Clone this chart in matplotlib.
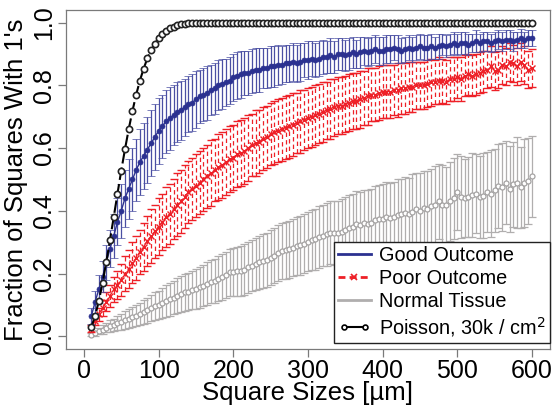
import numpy as np
import matplotlib
matplotlib.use("Agg")
import matplotlib.pyplot as plt
from matplotlib.lines import Line2D
from matplotlib.legend_handler import HandlerLine2D

plt.rcParams['font.family'] = ['Liberation Sans', 'DejaVu Sans']

# square sizes in um, 10..600 in steps of 5
square_sizes = np.arange(10, 605, 5)

good_mean = [
    .065, .11, .15, .19, .235, .28, .32, .365, .40, .44,
    .47, .50, .53, .555, .575, .595, .615, .635, .655, .67,
    .685, .695, .705, .715, .72, .73, .74, .745, .755, .765,
    .77, .775, .785, .79, .80, .805, .81, .815, .825, .83,
    .835, .84, .84, .845, .85, .85, .855, .855, .86, .86,
    .865, .865, .87, .87, .875, .87, .875, .88, .88, .885,
    .88, .885, .89, .89, .895, .89, .90, .90, .895, .90,
    .905, .90, .905, .91, .905, .91, .915, .91, .91, .915,
    .915, .92, .915, .91, .915, .92, .915, .92, .925, .92,
    .92, .925, .92, .925, .93, .925, .93, .935, .93, .935,
    .935, .93, .935, .94, .935, .94, .94, .935, .94, .945,
    .94, .945, .945, .94, .945, .95, .945, .95, .95,
]
good_sd = [
    .025, .035, .045, .05, .055, .06, .07, .075, .085, .09,
    .095, .10, .10, .105, .105, .105, .105, .105, .105, .10,
    .10, .10, .095, .095, .095, .09, .09, .09, .09, .085,
    .085, .085, .08, .08, .08, .08, .075, .075, .075, .075,
    .075, .07, .07, .07, .07, .07, .065, .065, .065, .065,
    .065, .06, .06, .06, .06, .06, .06, .055, .06, .055,
    .055, .055, .055, .05, .055, .05, .05, .05, .05, .05,
    .05, .045, .05, .045, .045, .045, .045, .045, .045, .045,
    .045, .04, .045, .04, .04, .04, .04, .04, .04, .04,
    .04, .04, .035, .04, .035, .035, .035, .035, .035, .035,
    .035, .035, .03, .035, .03, .03, .03, .03, .03, .03,
    .03, .03, .03, .03, .025, .03, .025, .025, .025,
]
poor_mean = [
    .025, .05, .07, .09, .11, .13, .15, .165, .18, .20,
    .215, .235, .25, .27, .285, .305, .32, .335, .35, .365,
    .38, .39, .405, .42, .43, .445, .46, .47, .48, .49,
    .50, .51, .52, .53, .54, .545, .555, .565, .57, .58,
    .585, .59, .60, .61, .615, .62, .63, .635, .645, .65,
    .655, .66, .665, .67, .675, .68, .685, .69, .695, .70,
    .705, .71, .715, .72, .725, .73, .735, .735, .74, .745,
    .75, .75, .755, .76, .765, .77, .77, .775, .78, .78,
    .78, .785, .785, .79, .79, .795, .795, .80, .80, .80,
    .805, .81, .81, .815, .815, .81, .82, .82, .825, .82,
    .83, .835, .83, .835, .84, .845, .85, .86, .845, .85,
    .865, .86, .875, .87, .86, .875, .865, .85, .855,
]
poor_sd = [
    .01, .015, .02, .025, .03, .035, .04, .045, .05, .055,
    .06, .065, .07, .07, .075, .08, .085, .085, .09, .09,
    .095, .095, .095, .10, .10, .10, .10, .10, .10, .10,
    .10, .10, .105, .10, .105, .105, .105, .105, .105, .105,
    .105, .105, .105, .10, .105, .10, .10, .10, .10, .10,
    .10, .10, .10, .10, .10, .095, .10, .095, .095, .095,
    .095, .095, .095, .09, .095, .09, .09, .09, .09, .09,
    .09, .09, .09, .085, .09, .085, .085, .085, .085, .085,
    .085, .08, .085, .08, .08, .08, .08, .075, .075, .075,
    .075, .075, .07, .075, .07, .07, .07, .07, .065, .07,
    .065, .065, .065, .065, .065, .065, .06, .065, .06, .06,
    .06, .06, .06, .06, .06, .06, .06, .06, .06,
]
normal_mean = [
    .005, .01, .017, .022, .028, .033, .037, .043, .047, .052,
    .057, .061, .066, .072, .078, .084, .09, .096, .10, .107,
    .113, .118, .124, .13, .135, .14, .143, .148, .152, .157,
    .162, .168, .174, .178, .184, .19, .196, .204, .206, .207,
    .208, .213, .22, .226, .232, .236, .24, .245, .251, .257,
    .265, .272, .274, .278, .283, .288, .29, .296, .302, .307,
    .31, .317, .321, .326, .33, .33, .328, .334, .34, .345,
    .35, .357, .355, .36, .358, .362, .37, .373, .375, .38,
    .378, .38, .388, .39, .393, .39, .398, .405, .40, .41,
    .405, .415, .42, .43, .42, .418, .43, .44, .46, .445,
    .44, .445, .45, .455, .445, .448, .46, .455, .465, .48,
    .475, .49, .47, .485, .49, .475, .49, .495, .51,
]
normal_sd = [
    .005, .008, .01, .013, .015, .018, .02, .023, .025, .028,
    .03, .032, .034, .036, .038, .04, .042, .044, .046, .048,
    .05, .052, .053, .055, .057, .058, .06, .062, .063, .065,
    .066, .068, .069, .07, .072, .073, .074, .075, .076, .078,
    .079, .08, .081, .082, .083, .084, .085, .086, .087, .088,
    .089, .09, .09, .091, .092, .093, .094, .095, .095, .096,
    .097, .098, .098, .10, .10, .101, .102, .103, .103, .104,
    .105, .106, .105, .108, .107, .108, .11, .109, .111, .112,
    .11, .113, .115, .112, .116, .114, .118, .115, .12, .117,
    .122, .118, .124, .12, .126, .121, .125, .128, .122, .13,
    .124, .128, .133, .126, .13, .135, .128, .138, .131, .134,
    .14, .132, .138, .135, .145, .13, .14, .136, .128,
]
# Poisson reference, 30k / cm^2 -- flat at 1.0 from 155 um on
poisson = [
    .030, .065, .113, .171, .237, .308, .381, .455, .528, .596,
    .660, .718, .770, .815, .853, .886, .912, .933, .950, .963,
    .973, .981, .987, .991, .994, .996, .997, .998, .999,
] + [1.0] * 90

labels = ["Good Outcome", "Poor Outcome", "Normal Tissue", "Poisson, 30k / cm$^2$"]

BLUE = "#2b3190"
RED = "#ee2027"
GRAY = "#b0aeae"
FRAME = "#7a7a7a"

fig = plt.figure(figsize=(5.53, 4.07), dpi=100)
ax = fig.add_axes([0.1193, 0.1425, 0.875, 0.833])

# normal tissue
ax.errorbar(square_sizes, normal_mean, yerr=normal_sd, color=GRAY, lw=0.8,
            marker="o", ms=3.6, mfc="white", mec="#a5a3a3", mew=0.9,
            ecolor=GRAY, elinewidth=0.9, capsize=2.8, capthick=0.9, zorder=2)

# poor outcome, dashed bars
eb = ax.errorbar(square_sizes, poor_mean, yerr=poor_sd, color=RED, lw=0.9, ls=(0, (3, 2)),
                 marker="x", ms=4, mew=1.0,
                 ecolor=RED, elinewidth=0.9, capsize=2.8, capthick=0.9, zorder=3)
eb[2][0].set_linestyle((0, (3.5, 2.5)))

# good outcome
ax.errorbar(square_sizes, good_mean, yerr=good_sd, color=BLUE, lw=1.0,
            marker="o", ms=3.6, mfc=BLUE, mec=BLUE, mew=0.5,
            ecolor="#4a4fa3", elinewidth=0.9, capsize=2.8, capthick=0.9, zorder=4)

ax.plot(square_sizes, poisson, color="black", lw=1.5, ls=(0, (6, 2)),
        marker="o", ms=4.5, mfc="white", mec="#222222", mew=1.2, zorder=5)

ax.set_xlim(-24, 624)
ax.set_ylim(-0.04, 1.04)
ax.set_xticks([0, 100, 200, 300, 400, 500, 600])
ax.set_yticks([0.0, 0.2, 0.4, 0.6, 0.8, 1.0])
ax.set_yticklabels(["0.0", "0.2", "0.4", "0.6", "0.8", "1.0"], rotation=90, va="center")
ax.tick_params(length=6, width=0.9, color=FRAME, labelsize=18, pad=1)
for s in ax.spines.values():
    s.set_color(FRAME)
    s.set_linewidth(0.9)

ax.set_xlabel("Square Sizes [µm]", fontsize=18.5, labelpad=-1)
ax.set_ylabel("Fraction of Squares With 1's", fontsize=18.5, labelpad=3)

handles = [
    Line2D([], [], color=BLUE, lw=2),
    Line2D([], [], color=RED, lw=2, ls=(0, (2.5, 1.5)), marker="x", ms=4, mew=1.2),
    Line2D([], [], color=GRAY, lw=2),
    Line2D([], [], color="black", lw=1.5, marker="o", ms=3.5, mfc="white", mew=1.2),
]
leg = ax.legend(handles, labels, loc="lower right", bbox_to_anchor=(1.0, 0.018),
                borderaxespad=0, fontsize=14.3, frameon=True, fancybox=False,
                edgecolor="#222222", framealpha=1, labelspacing=0.2,
                handlelength=1.66, handletextpad=0.45, borderpad=0.2,
                handler_map={handles[3]: HandlerLine2D(numpoints=2)})
leg.get_frame().set_linewidth(1.0)

fig.savefig("out.png", dpi=100)
